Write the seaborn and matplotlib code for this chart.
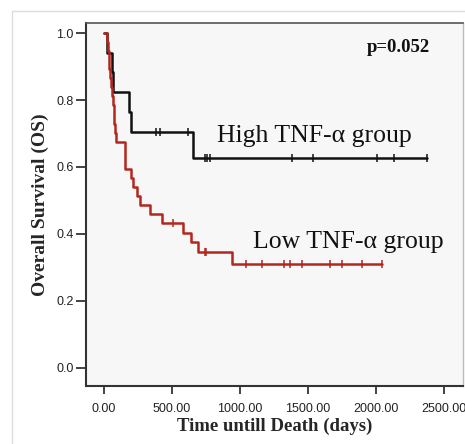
import numpy as np
import pandas as pd
import seaborn as sns
import matplotlib.pyplot as plt
from matplotlib.lines import Line2D

###################
# Data (days)
high_event_times = [22, 59, 66, 184, 199, 654]
high_censor_times = [382, 412, 618, 743, 760, 780, 1382, 1537, 2007, 2132, 2375]

low_event_times = [22, 28, 34, 40, 46, 52, 58, 64, 70, 77, 84, 92,
                   154, 154, 154, 198, 213, 243, 265, 338, 426,
                   581, 640, 691, 941]
low_censor_times = [507, 743, 748, 1044, 1162, 1324, 1368, 1456, 1662,
                    1750, 1897, 2044]

groups = ["High TNF-α group", "Low TNF-α group"]
x_ticks = [0, 500, 1000, 1500, 2000, 2500]
y_ticks = [0.0, 0.2, 0.4, 0.6, 0.8, 1.0]
p_text = "p=0.052"


def kaplan_meier(event_times, censor_times):
    times = np.array(list(event_times) + list(censor_times), dtype=float)
    events = np.array([1] * len(event_times) + [0] * len(censor_times))
    order = np.argsort(times, kind="stable")
    times, events = times[order], events[order]
    surv = 1.0
    at_risk = len(times)
    step_t, step_s = [0.0], [1.0]
    cens_t, cens_s = [], []
    for t in np.unique(times):
        mask = times == t
        d = events[mask].sum()
        if d > 0:
            surv *= 1 - d / at_risk
            step_t.append(t)
            step_s.append(surv)
        for _ in range(int(mask.sum() - d)):
            cens_t.append(t)
            cens_s.append(surv)
        at_risk -= mask.sum()
    step_t.append(times.max())
    step_s.append(surv)
    return step_t, step_s, cens_t, cens_s


curves = []
marks = []
for name, ev, ce in [(groups[0], high_event_times, high_censor_times),
                     (groups[1], low_event_times, low_censor_times)]:
    st, ss, ct, cs = kaplan_meier(ev, ce)
    curves.append(pd.DataFrame({"Time": st, "Survival": ss, "Group": name}))
    marks.append(pd.DataFrame({"Time": ct, "Survival": cs, "Group": name}))
curves = pd.concat(curves, ignore_index=True)
marks = pd.concat(marks, ignore_index=True)

###################
# Setup
sns.set_theme(style="ticks")
plt.rcParams["font.family"] = ["Liberation Sans", "DejaVu Sans"]
serif = ["Liberation Serif", "DejaVu Serif"]
palette = {groups[0]: "#111111", groups[1]: "#b3271f"}

fig = plt.figure(figsize=(4.65, 4.44), dpi=100)
ax = fig.add_axes([0.185, 0.131, 0.811, 0.817])
ax.set_facecolor("#f7f7f7")

# faint outer frame of the original export
fig.add_artist(Line2D([12 / 465, 12 / 465], [0, 1 - 11 / 444], color="#dddddd", lw=1))
fig.add_artist(Line2D([12 / 465, 1], [1 - 11 / 444, 1 - 11 / 444], color="#dddddd", lw=1))

###################
# Curves
for name in groups:
    sns.lineplot(curves[curves["Group"] == name], x="Time", y="Survival",
                 color=palette[name], drawstyle="steps-post", estimator=None,
                 sort=False, linewidth=1.8, ax=ax, legend=False)
    sns.scatterplot(marks[marks["Group"] == name], x="Time", y="Survival",
                    color=palette[name], marker="|", s=38, linewidth=1.1,
                    ax=ax, legend=False, zorder=3)

ax.text(831, 0.675, groups[0], fontsize=18.5, family=serif, color="#111111")
ax.text(1096, 0.358, groups[1], fontsize=18.5, family=serif, color="#111111")
ax.text(1934, 0.943, p_text, fontsize=13.5, family=serif, fontweight="bold", color="#111111")

###################
# Axes
ax.set_xlim(-132, 2640)
ax.set_ylim(-0.054, 1.03)
ax.set_xticks(x_ticks)
ax.set_xticklabels([f"{v:.2f}" for v in x_ticks])
ax.set_yticks(y_ticks)
ax.set_yticklabels([f"{v:.1f}" for v in y_ticks])
ax.tick_params(axis="both", labelsize=9, colors="#222222", direction="out", width=1.2)
ax.tick_params(axis="y", length=7, pad=2)
ax.tick_params(axis="x", length=6, pad=6)
ax.set_xlabel("Time untill Death (days)", fontsize=13.5, family=serif, fontweight="bold", labelpad=2)
ax.set_ylabel("Overall Survival (OS)", fontsize=14, family=serif, fontweight="bold", labelpad=5)

for side in ["left", "bottom"]:
    ax.spines[side].set_color("#333333")
    ax.spines[side].set_linewidth(1.5)
ax.spines["top"].set_color("#555555")
ax.spines["top"].set_linewidth(1.2)
ax.spines["right"].set_color("#bbbbbb")
ax.spines["right"].set_linewidth(1.0)

###################
# Export
fig.savefig("out.png", dpi=100)
